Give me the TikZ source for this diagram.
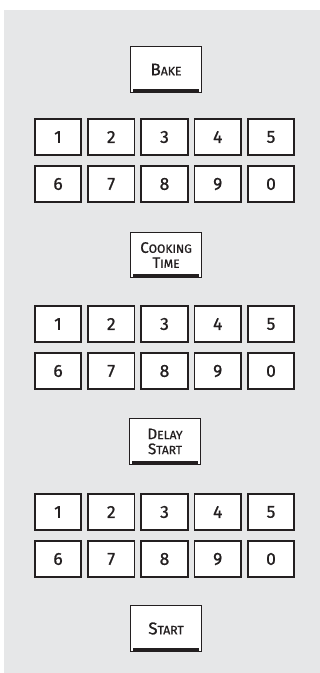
\documentclass[tikz,border=0pt]{standalone}
\usepackage{fontspec}
\usepackage{xcolor}
\usepackage{tikz}
\setmainfont{Fira Sans}
\newfontfamily\panelfont{Fira Sans}[FakeBold=0.9]

\definecolor{panelgray}{HTML}{E6E7E8}
\definecolor{keyline}{HTML}{231F20}

% fake small caps: first letter large, rest small
\newcommand{\bigcaps}[2]{{\fontsize{17}{18}\selectfont #1}{\fontsize{12.2}{18}\selectfont #2}}
\newcommand{\twocaps}[2]{{\fontsize{15.2}{15}\selectfont #1}{\fontsize{12}{15}\selectfont #2}}

\tikzset{
  key/.style={draw=keyline, line width=1.6pt, fill=white, inner sep=0pt,
    minimum width=46.5pt, minimum height=36.5pt, text=keyline,
    font=\panelfont\fontsize{17.5}{17.5}\selectfont},
  button/.style={draw=keyline, line width=1.4pt, fill=white, inner sep=0pt,
    minimum width=70.5pt, minimum height=45.5pt, text=keyline, align=center,
    font=\panelfont\fontsize{12}{15}\selectfont},
}

\begin{document}
\begin{tikzpicture}[x=1pt, y=-1pt]
  \useasboundingbox (0,0) rectangle (320,673);
  \fill[panelgray] (4,10) rectangle (320,673);

  \node[button] (bake) at (166,69.5) {\bigcaps{B}{AKE}};
  \node[button] (cooktime) at (166,255) {\twocaps{C}{OOKING}\\\twocaps{T}{IME}};
  \node[button] (delaystart) at (165,441.5) {\twocaps{D}{ELAY}\\\twocaps{S}{TART}};
  \node[button] (start) at (166,628.5) {\bigcaps{S}{TART}};
  \foreach \b in {bake,cooktime,delaystart,start}
    \fill[keyline] ([xshift=2.5pt,yshift=1.2pt]\b.south west)
      rectangle ([xshift=-2.5pt,yshift=4.2pt]\b.south east);

  \foreach \p/\y in {a/137, b/324, c/512} {
    \foreach \d [count=\i from 0] in {1,2,3,4,5}
      \node[key] (key\p\d) at (58+53.25*\i,\y) {\d};
    \foreach \d [count=\i from 0] in {6,7,8,9,0}
      \node[key] (key\p\d) at (58+53.25*\i,\y+47) {\d};
  }
\end{tikzpicture}
\end{document}
